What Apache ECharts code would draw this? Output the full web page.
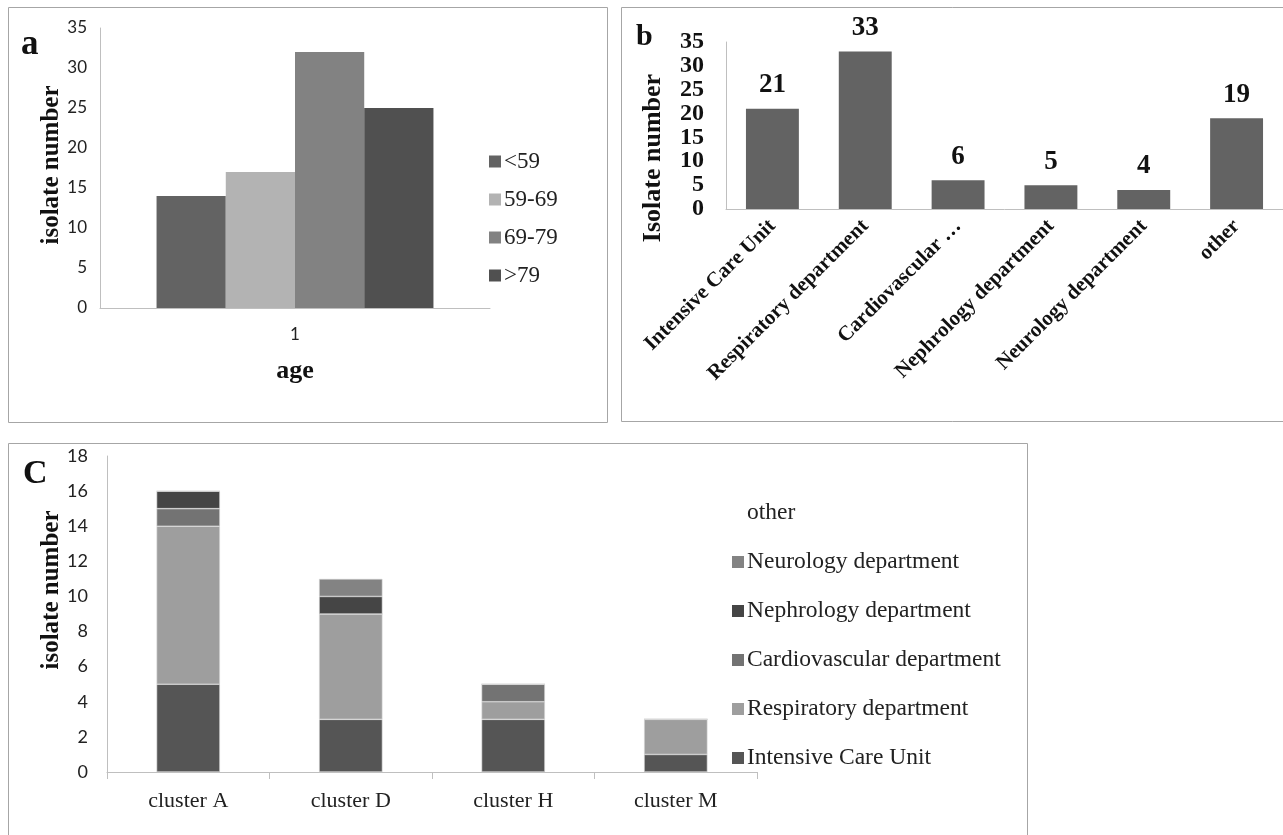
<!DOCTYPE html>
<html><head><meta charset="utf-8">
<script src="https://cdn.jsdelivr.net/npm/echarts@6/dist/echarts.min.js"></script>
<style>html,body{margin:0;padding:0;background:#fff}#c{width:1283px;height:835px}</style>
</head><body><div id="c"></div>
<script>
// Panel a
const ageCategories = ['1'];
const ageGroups = ['<59', '59-69', '69-79', '>79'];
const ageValues = [14, 17, 32, 25];
const ageColors = ['#636363', '#b3b3b3', '#828282', '#505050'];
// Panel b
const deptLabels = ['Intensive Care Unit', 'Respiratory department', 'Cardiovascular …', 'Nephrology department', 'Neurology department', 'other'];
const deptValues = [21, 33, 6, 5, 4, 19];
// Panel C
const clusters = ['cluster A', 'cluster D', 'cluster H', 'cluster M'];
const icu = [5, 3, 3, 1];
const respiratory = [9, 6, 1, 2];
const cardiovascular = [1, 0, 1, 0];
const nephrology = [1, 1, 0, 0];
const neurology = [0, 1, 0, 0];
const otherDept = [0, 0, 0, 0];

const SERIF = '"Liberation Serif", "Times New Roman", serif';
const SANS = 'Lato, "Open Sans", sans-serif';
const AX = '#bfbfbf';

const chart = echarts.init(document.getElementById('c'), null, {renderer: 'canvas'});

const cSeriesDefs = [
  ['Intensive Care Unit', icu, '#555555'],
  ['Respiratory department', respiratory, '#9e9e9e'],
  ['Cardiovascular department', cardiovascular, '#737373'],
  ['Nephrology department', nephrology, '#454545'],
  ['Neurology department', neurology, '#838383'],
  ['other', otherDept, '#ffffff']
];

const series = [];
ageGroups.forEach((g, i) => {
  series.push({
    name: g, type: 'bar', xAxisIndex: 0, yAxisIndex: 0,
    data: [ageValues[i]], barGap: '0%', barCategoryGap: '29%',
    itemStyle: {color: ageColors[i]}
  });
});
series.push({
  name: 'dept', type: 'bar', xAxisIndex: 1, yAxisIndex: 1,
  data: deptValues, barCategoryGap: '43%',
  itemStyle: {color: '#636363'},
  label: {show: true, position: 'top', distance: 10, fontFamily: SERIF, fontWeight: 'bold', fontSize: 27, color: '#111'}
});
cSeriesDefs.forEach(([n, d, col]) => {
  series.push({
    name: n, type: 'bar', xAxisIndex: 2, yAxisIndex: 2, stack: 'c',
    data: d, barCategoryGap: '61%',
    itemStyle: {color: col, borderColor: n === 'other' ? 'transparent' : '#d6d6d6', borderWidth: n === 'other' ? 0 : 0.6}
  });
});

function vText(txt, x, y, size) {
  return {type: 'text', x: x, y: y, rotation: Math.PI / 2, silent: true,
    style: {text: txt, font: 'bold ' + size + 'px ' + SERIF, fill: '#111', align: 'center', verticalAlign: 'middle'}};
}

chart.setOption({
  animation: false,
  backgroundColor: '#fff',
  graphic: [
    {type: 'rect', shape: {x: 8.5, y: 7.5, width: 599, height: 415}, style: {fill: null, stroke: '#a6a6a6', lineWidth: 1}, silent: true},
    {type: 'rect', shape: {x: 621.5, y: 7.5, width: 680, height: 414}, style: {fill: null, stroke: '#a6a6a6', lineWidth: 1}, silent: true},
    {type: 'rect', shape: {x: 8.5, y: 443.5, width: 1019, height: 420}, style: {fill: null, stroke: '#a6a6a6', lineWidth: 1}, silent: true},
    {type: 'text', left: 21, top: 27, style: {text: 'a', font: 'bold 35px ' + SERIF, fill: '#111'}},
    {type: 'text', left: 636, top: 22, style: {text: 'b', font: 'bold 30px ' + SERIF, fill: '#111'}},
    {type: 'text', left: 23, top: 457, style: {text: 'C', font: 'bold 34px ' + SERIF, fill: '#111'}},
    vText('isolate number', 52, 165, 25),
    vText('Isolate number', 653, 158, 26),
    vText('isolate number', 52, 590, 25)
  ],
  legend: [
    {
      data: ageGroups, orient: 'vertical', left: 484, top: 145,
      itemWidth: 12, itemHeight: 12, itemGap: 15, icon: 'rect',
      itemStyle: {borderWidth: 0},
      textStyle: {fontFamily: 'Liberation Serif', fontSize: 23, color: '#222', padding: [0, 0, 0, -2]}
    },
    {
      data: ['other', 'Neurology department', 'Nephrology department', 'Cardiovascular department', 'Respiratory department', 'Intensive Care Unit'],
      orient: 'vertical', left: 727, top: 496,
      itemWidth: 12, itemHeight: 12, itemGap: 25, icon: 'rect',
      itemStyle: {borderWidth: 0},
      textStyle: {fontFamily: 'Liberation Serif', fontSize: 23.5, color: '#222', padding: [0, 0, 0, -2]}
    }
  ],
  grid: [
    {left: 100, top: 28, width: 390, height: 280},
    {left: 726, top: 42, width: 557, height: 167},
    {left: 107, top: 456, width: 650, height: 316}
  ],
  xAxis: [
    {
      gridIndex: 0, type: 'category', data: ageCategories,
      axisLine: {lineStyle: {color: AX}}, axisTick: {show: false},
      axisLabel: {fontFamily: SANS, fontSize: 17, color: '#222', margin: 18},
      name: 'age', nameLocation: 'middle', nameGap: 50,
      nameTextStyle: {fontFamily: SERIF, fontWeight: 'bold', fontSize: 26, color: '#111'}
    },
    {
      gridIndex: 1, type: 'category', data: deptLabels,
      axisLine: {lineStyle: {color: AX}}, axisTick: {show: false},
      axisLabel: {fontFamily: SERIF, fontWeight: 'bold', fontSize: 21, color: '#111', rotate: 45, margin: 14, interval: 0}
    },
    {
      gridIndex: 2, type: 'category', data: clusters,
      axisLine: {lineStyle: {color: AX}}, axisTick: {show: true, length: 7, lineStyle: {color: AX}},
      axisLabel: {fontFamily: SERIF, fontSize: 22, color: '#222', margin: 18}
    }
  ],
  yAxis: [
    {
      gridIndex: 0, type: 'value', min: 0, max: 35, interval: 5,
      splitLine: {show: false}, axisLine: {show: true, lineStyle: {color: AX}}, axisTick: {show: false},
      axisLabel: {fontFamily: SANS, fontSize: 17, color: '#222', margin: 13}
    },
    {
      gridIndex: 1, type: 'value', min: 0, max: 35, interval: 5,
      splitLine: {show: false}, axisLine: {show: true, lineStyle: {color: AX}}, axisTick: {show: false},
      axisLabel: {fontFamily: SERIF, fontWeight: 'bold', fontSize: 24, color: '#111', margin: 22, lineHeight: 20,
        showMinLabel: true, showMaxLabel: true, hideOverlap: false}
    },
    {
      gridIndex: 2, type: 'value', min: 0, max: 18, interval: 2,
      splitLine: {show: false}, axisLine: {show: true, lineStyle: {color: AX}}, axisTick: {show: false},
      axisLabel: {fontFamily: SANS, fontSize: 18, color: '#222', margin: 19}
    }
  ],
  series: series
});
</script>
</body></html>
